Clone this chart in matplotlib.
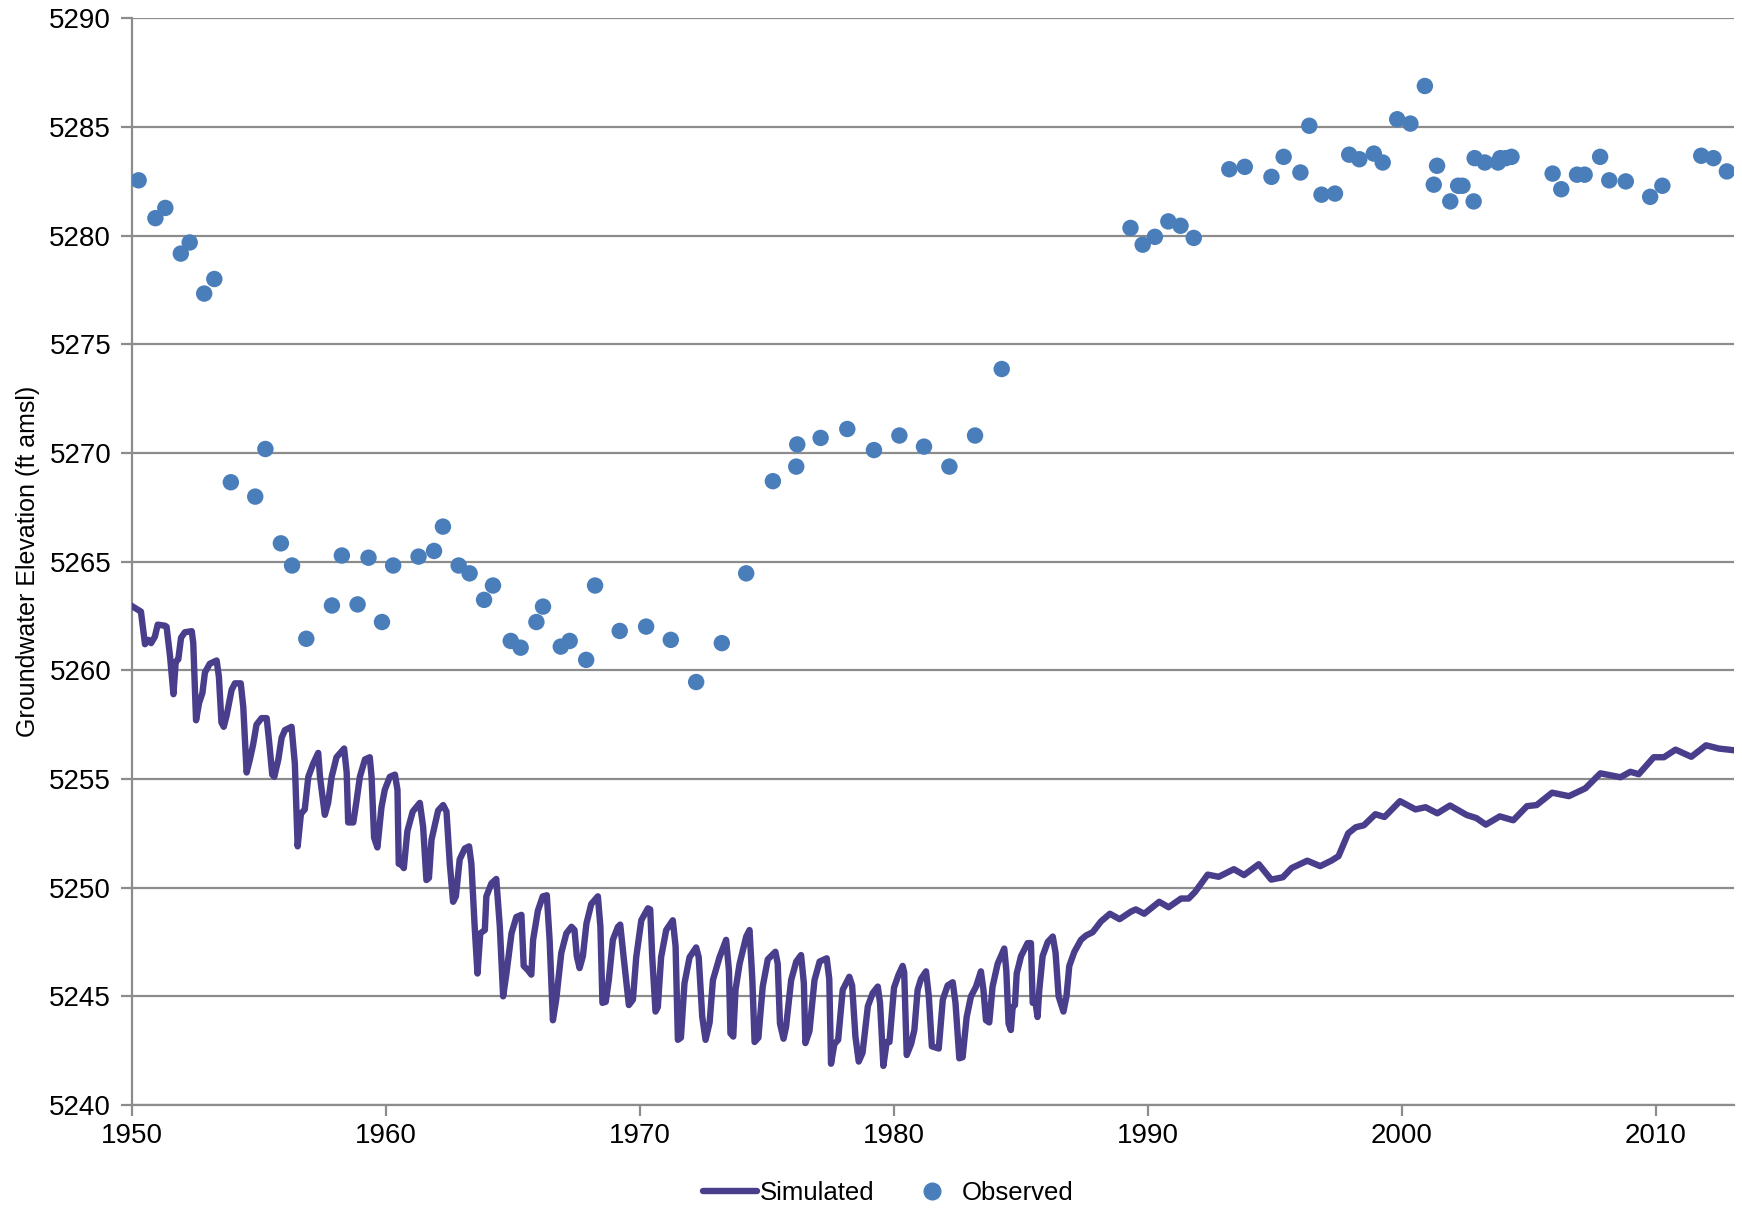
import matplotlib
matplotlib.use("Agg")
import matplotlib.pyplot as plt
from matplotlib.lines import Line2D

# observed heads (decimal year, ft amsl)
obs_year = [1950.26, 1950.92, 1951.31, 1951.92, 1952.27, 1952.84, 1953.24, 1953.89, 1954.85, 1955.25,
            1955.86, 1956.30, 1956.86, 1957.87, 1958.26, 1958.88, 1959.31, 1959.84, 1960.28, 1961.28,
            1961.89, 1962.24, 1962.86, 1963.29, 1963.86, 1964.21, 1964.91, 1965.30, 1965.92, 1966.18,
            1966.88, 1967.23, 1967.88, 1968.23, 1969.20, 1970.24, 1971.21, 1972.21, 1973.22, 1974.18,
            1975.23, 1976.15, 1976.19, 1977.11, 1978.16, 1979.21, 1980.21, 1981.18, 1982.18, 1983.19,
            1984.24, 1989.31, 1989.79, 1990.27, 1990.80, 1991.28, 1991.80, 1993.20, 1993.81, 1994.86,
            1995.34, 1996.00, 1996.35, 1996.83, 1997.36, 1997.92, 1998.32, 1998.89, 1999.24, 1999.81,
            2000.33, 2000.90, 2001.25, 2001.38, 2001.90, 2002.21, 2002.38, 2002.82, 2002.86, 2003.26,
            2003.78, 2003.87, 2004.09, 2004.31, 2005.93, 2006.27, 2006.89, 2007.19, 2007.80, 2008.16,
            2008.81, 2009.77, 2010.25, 2011.78, 2012.26, 2012.79]
obs_elev = [5282.54, 5280.80, 5281.27, 5279.17, 5279.68, 5277.33, 5278.00, 5268.65, 5267.99, 5270.18,
            5265.84, 5264.82, 5261.45, 5262.98, 5265.28, 5263.03, 5265.18, 5262.22, 5264.82, 5265.23,
            5265.49, 5266.61, 5264.82, 5264.46, 5263.24, 5263.90, 5261.35, 5261.04, 5262.22, 5262.93,
            5261.09, 5261.35, 5260.48, 5263.90, 5261.81, 5262.01, 5261.40, 5259.46, 5261.25, 5264.46,
            5268.70, 5269.37, 5270.39, 5270.69, 5271.10, 5270.13, 5270.80, 5270.29, 5269.37, 5270.80,
            5273.86, 5280.35, 5279.58, 5279.94, 5280.65, 5280.45, 5279.89, 5283.05, 5283.16, 5282.70,
            5283.62, 5282.90, 5285.05, 5281.88, 5281.93, 5283.72, 5283.51, 5283.77, 5283.36, 5285.35,
            5285.15, 5286.88, 5282.34, 5283.21, 5281.57, 5282.29, 5282.29, 5281.57, 5283.56, 5283.36,
            5283.36, 5283.56, 5283.56, 5283.62, 5282.85, 5282.13, 5282.80, 5282.80, 5283.62, 5282.54,
            5282.49, 5281.78, 5282.29, 5283.67, 5283.56, 5282.95]

# simulated heads
sim_year = [1950.00, 1950.35, 1950.51, 1950.64, 1950.75, 1950.90, 1951.01, 1951.30, 1951.36, 1951.50,
            1951.63, 1951.72, 1951.82, 1951.93, 1952.08, 1952.35, 1952.41, 1952.52, 1952.64, 1952.77,
            1952.87, 1953.06, 1953.33, 1953.42, 1953.52, 1953.61, 1953.72, 1953.92, 1954.05, 1954.28,
            1954.38, 1954.51, 1954.64, 1954.77, 1954.90, 1955.10, 1955.30, 1955.39, 1955.52, 1955.60,
            1955.76, 1955.89, 1956.02, 1956.28, 1956.41, 1956.52, 1956.65, 1956.80, 1956.94, 1957.13,
            1957.33, 1957.40, 1957.59, 1957.72, 1957.86, 1958.05, 1958.35, 1958.45, 1958.51, 1958.71,
            1958.84, 1958.97, 1959.17, 1959.36, 1959.43, 1959.53, 1959.66, 1959.82, 1959.95, 1960.15,
            1960.35, 1960.45, 1960.50, 1960.61, 1960.70, 1960.84, 1961.05, 1961.33, 1961.46, 1961.59,
            1961.69, 1961.79, 1962.05, 1962.25, 1962.38, 1962.51, 1962.64, 1962.75, 1962.90, 1963.10,
            1963.27, 1963.36, 1963.49, 1963.60, 1963.71, 1963.89, 1963.95, 1964.15, 1964.34, 1964.48,
            1964.61, 1964.74, 1964.94, 1965.13, 1965.33, 1965.42, 1965.59, 1965.72, 1965.79, 1965.98,
            1966.17, 1966.33, 1966.44, 1966.57, 1966.70, 1966.90, 1967.10, 1967.30, 1967.42, 1967.51,
            1967.62, 1967.75, 1967.89, 1968.08, 1968.34, 1968.44, 1968.52, 1968.65, 1968.77, 1968.93,
            1969.13, 1969.22, 1969.35, 1969.56, 1969.72, 1969.85, 1970.05, 1970.31, 1970.40, 1970.48,
            1970.61, 1970.70, 1970.83, 1971.03, 1971.29, 1971.40, 1971.49, 1971.61, 1971.75, 1971.95,
            1972.21, 1972.31, 1972.45, 1972.58, 1972.74, 1972.87, 1973.13, 1973.39, 1973.50, 1973.56,
            1973.67, 1973.76, 1973.92, 1974.18, 1974.31, 1974.42, 1974.51, 1974.66, 1974.83, 1975.03,
            1975.33, 1975.42, 1975.51, 1975.65, 1975.75, 1975.95, 1976.15, 1976.34, 1976.45, 1976.51,
            1976.67, 1976.87, 1977.07, 1977.35, 1977.45, 1977.52, 1977.65, 1977.80, 1977.98, 1978.24,
            1978.35, 1978.48, 1978.61, 1978.76, 1978.97, 1979.16, 1979.36, 1979.45, 1979.58, 1979.71,
            1979.82, 1980.00, 1980.18, 1980.34, 1980.40, 1980.50, 1980.67, 1980.80, 1980.93, 1981.06,
            1981.26, 1981.37, 1981.49, 1981.76, 1981.92, 1982.11, 1982.31, 1982.42, 1982.57, 1982.70,
            1982.86, 1983.03, 1983.23, 1983.42, 1983.52, 1983.62, 1983.75, 1983.88, 1984.08, 1984.34,
            1984.42, 1984.51, 1984.60, 1984.67, 1984.76, 1984.83, 1985.00, 1985.26, 1985.39, 1985.46,
            1985.56, 1985.65, 1985.72, 1985.85, 1986.05, 1986.25, 1986.36, 1986.48, 1986.67, 1986.79,
            1986.90, 1987.10, 1987.36, 1987.56, 1987.82, 1988.15, 1988.50, 1988.88, 1989.33, 1989.52,
            1989.85, 1990.44, 1990.81, 1991.30, 1991.60, 1991.85, 1992.35, 1992.78, 1993.38, 1993.78,
            1994.36, 1994.85, 1995.31, 1995.65, 1996.27, 1996.78, 1997.23, 1997.50, 1997.88, 1998.18,
            1998.50, 1998.95, 1999.31, 1999.92, 2000.53, 2000.93, 2001.39, 2001.89, 2002.55, 2002.93,
            2003.30, 2003.85, 2004.38, 2004.92, 2005.30, 2005.91, 2006.57, 2007.22, 2007.81, 2008.60,
            2008.99, 2009.32, 2009.91, 2010.31, 2010.77, 2011.39, 2011.97, 2012.47, 2013.00]
sim_elev = [5262.95, 5262.70, 5261.20, 5261.40, 5261.25, 5261.55, 5262.10, 5262.05, 5262.00, 5260.60,
            5258.90, 5260.40, 5260.50, 5261.50, 5261.75, 5261.80, 5261.25, 5257.70, 5258.50, 5258.95,
            5259.90, 5260.30, 5260.45, 5259.70, 5257.60, 5257.40, 5257.90, 5259.10, 5259.40, 5259.40,
            5258.30, 5255.30, 5255.90, 5256.60, 5257.50, 5257.80, 5257.80, 5256.80, 5255.20, 5255.10,
            5255.90, 5256.90, 5257.25, 5257.40, 5255.70, 5251.90, 5253.40, 5253.60, 5255.10, 5255.70,
            5256.20, 5255.10, 5253.35, 5253.90, 5255.10, 5256.00, 5256.40, 5255.30, 5253.00, 5253.00,
            5254.00, 5255.10, 5255.90, 5256.00, 5255.10, 5252.30, 5251.85, 5253.70, 5254.50, 5255.10,
            5255.20, 5254.50, 5251.10, 5251.05, 5250.90, 5252.60, 5253.50, 5253.90, 5252.80, 5250.35,
            5250.45, 5252.20, 5253.55, 5253.80, 5253.50, 5251.10, 5249.35, 5249.60, 5251.30, 5251.80,
            5251.90, 5251.10, 5248.20, 5246.05, 5247.90, 5248.05, 5249.60, 5250.20, 5250.40, 5248.20,
            5245.00, 5246.05, 5247.90, 5248.65, 5248.75, 5246.40, 5246.20, 5246.00, 5247.60, 5248.95,
            5249.60, 5249.65, 5247.60, 5243.90, 5244.85, 5247.00, 5247.90, 5248.20, 5248.05, 5246.85,
            5246.30, 5246.85, 5248.35, 5249.25, 5249.60, 5248.20, 5244.70, 5244.75, 5245.75, 5247.60,
            5248.20, 5248.30, 5246.85, 5244.60, 5244.85, 5246.80, 5248.50, 5249.05, 5249.00, 5246.80,
            5244.30, 5244.50, 5246.80, 5248.05, 5248.50, 5247.30, 5243.00, 5243.10, 5245.60, 5246.80,
            5247.25, 5246.80, 5244.05, 5243.00, 5243.80, 5245.75, 5246.80, 5247.60, 5246.20, 5243.30,
            5243.15, 5245.30, 5246.50, 5247.75, 5248.05, 5245.80, 5242.90, 5243.10, 5245.45, 5246.70,
            5247.05, 5246.50, 5243.75, 5243.05, 5243.60, 5245.75, 5246.60, 5246.90, 5245.60, 5242.85,
            5243.40, 5245.75, 5246.60, 5246.75, 5245.80, 5241.90, 5242.80, 5243.00, 5245.30, 5245.90,
            5245.50, 5243.15, 5242.00, 5242.40, 5244.55, 5245.15, 5245.45, 5244.70, 5241.80, 5242.90,
            5242.90, 5245.40, 5246.00, 5246.40, 5246.10, 5242.30, 5242.80, 5243.45, 5245.30, 5245.80,
            5246.15, 5245.00, 5242.70, 5242.60, 5244.85, 5245.50, 5245.65, 5244.70, 5242.15, 5242.20,
            5244.05, 5245.00, 5245.45, 5246.15, 5245.30, 5243.90, 5243.80, 5245.45, 5246.50, 5247.20,
            5246.20, 5243.75, 5243.45, 5244.50, 5244.60, 5246.05, 5246.85, 5247.45, 5247.45, 5244.70,
            5244.80, 5244.05, 5245.30, 5246.85, 5247.50, 5247.75, 5247.00, 5245.00, 5244.30, 5245.00,
            5246.40, 5247.05, 5247.60, 5247.80, 5247.95, 5248.45, 5248.80, 5248.55, 5248.90, 5249.00,
            5248.80, 5249.35, 5249.10, 5249.50, 5249.50, 5249.80, 5250.60, 5250.50, 5250.85, 5250.58,
            5251.08, 5250.37, 5250.48, 5250.90, 5251.24, 5250.99, 5251.25, 5251.45, 5252.50, 5252.78,
            5252.87, 5253.38, 5253.25, 5253.98, 5253.60, 5253.70, 5253.42, 5253.78, 5253.34, 5253.20,
            5252.90, 5253.28, 5253.10, 5253.75, 5253.80, 5254.37, 5254.21, 5254.57, 5255.26, 5255.08,
            5255.33, 5255.22, 5256.00, 5256.00, 5256.35, 5256.02, 5256.55, 5256.40, 5256.33]

x_ticks = [1950, 1960, 1970, 1980, 1990, 2000, 2010]
y_ticks = list(range(5240, 5291, 5))

line_col = '#483E8C'
dot_col = '#4A7EBB'
grid_col = '#8C8C8C'

plt.rcParams['font.family'] = ['Liberation Sans', 'DejaVu Sans']

fig = plt.figure(figsize=(17.42, 12.11), dpi=100)
ax = fig.add_axes([0.0758, 0.0875, 0.9196, 0.8975])

ax.plot(sim_year, sim_elev, color=line_col, lw=4.6, solid_joinstyle='round', zorder=3)
ax.scatter(obs_year, obs_elev, s=140, color=dot_col, edgecolors='none', zorder=4)

ax.set_xlim(1950, 2013.07)
ax.set_ylim(5240, 5290)
ax.set_xticks(x_ticks)
ax.set_yticks(y_ticks)
ax.yaxis.grid(True, color=grid_col, lw=1.6)
ax.set_axisbelow(True)

for s in ['top', 'right']:
    ax.spines[s].set_visible(False)
for s in ['left', 'bottom']:
    ax.spines[s].set_color(grid_col)
    ax.spines[s].set_linewidth(1.6)
ax.tick_params(axis='both', colors=grid_col, width=1.6, length=8, labelsize=20,
               labelcolor='black')
ax.tick_params(axis='x', pad=5)
ax.tick_params(axis='y', pad=7)

ax.set_ylabel('Groundwater Elevation (ft amsl)', fontsize=18, labelpad=7)

handles = [Line2D([], [], color=line_col, lw=4.6, solid_capstyle='round'),
           Line2D([], [], color=dot_col, marker='o', ls='none', markersize=12)]
fig.legend(handles, ['Simulated', 'Observed'], loc='center', bbox_to_anchor=(0.51, 0.0145),
           ncol=2, frameon=False, fontsize=18.5, handlelength=2.1, handletextpad=0.1,
           columnspacing=1.2)

fig.savefig('out.png', dpi=100)
